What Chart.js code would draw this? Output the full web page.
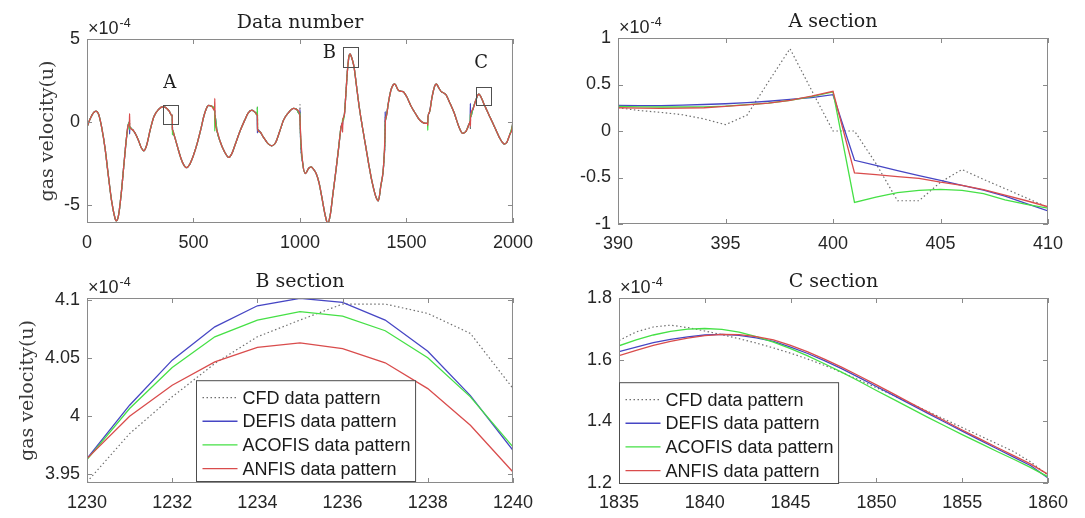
<!DOCTYPE html>
<html>
<head>
<meta charset="utf-8">
<script src="https://cdn.jsdelivr.net/npm/chart.js@4.4.1/dist/chart.umd.min.js"></script>
<style>
  body { margin: 0; background: #fff; width: 1085px; height: 518px; position: relative; overflow: hidden; }
  .cell { position: absolute; }
</style>
</head>
<body>
<div class="cell" style="left:0;top:0"><canvas id="cMain" width="542" height="260"></canvas></div>
<div class="cell" style="left:542px;top:0"><canvas id="cA" width="543" height="260"></canvas></div>
<div class="cell" style="left:0;top:260px"><canvas id="cB" width="542" height="258"></canvas></div>
<div class="cell" style="left:542px;top:260px"><canvas id="cC" width="543" height="258"></canvas></div>
<script>
// all velocities in units of 1e-4

// ---- full record (Data number) ----
const mainN = [0, 15, 30, 42, 55, 70, 85, 100, 115, 128, 137, 147, 160, 173, 185, 193, 199,
  201, 212, 225, 240, 255, 267, 280, 297, 314, 335, 356, 372, 386, 399, 400,
  402, 410, 425, 440, 455, 467, 480, 500, 517, 535, 548, 560, 571, 585, 599,
  601, 610, 626, 642, 655, 665, 680, 700, 720, 740, 757, 774, 788, 799,
  801, 813, 825, 837, 850, 868, 885, 905, 923, 945, 970, 985, 999,
  1001, 1013, 1026, 1040, 1052, 1064, 1076, 1090, 1105, 1118, 1130, 1142, 1155, 1169, 1181, 1193, 1199,
  1201, 1208, 1215, 1223, 1230, 1235, 1240, 1247, 1254, 1265, 1278, 1293, 1309, 1325, 1340, 1355, 1368, 1380, 1390, 1395, 1399,
  1401, 1405, 1417, 1429, 1445, 1461, 1475, 1484, 1500, 1523, 1545, 1562, 1580, 1593, 1599,
  1601, 1608, 1620, 1632, 1640, 1652, 1663, 1675, 1686, 1700, 1725, 1745, 1764, 1780, 1795, 1799,
  1801, 1811, 1825, 1835, 1840, 1848, 1855, 1866, 1890, 1913, 1935, 1950, 1960, 1972, 1985, 1998];
const mainV = [-0.30, 0.20, 0.55, 0.66, 0.45, -0.40, -1.60, -3.20, -4.70, -5.60, -5.95, -5.70, -4.40, -2.60, -1.00, -0.20, 0.00,
  -0.30, -0.45, -0.65, -1.05, -1.55, -1.73, -1.40, -0.45, 0.32, 0.75, 0.92, 0.85, 0.65, 0.38, 0.42,
  -0.48, -0.82, -1.50, -2.15, -2.60, -2.75, -2.60, -2.00, -1.30, -0.40, 0.32, 0.80, 1.00, 0.95, 0.70,
  0.40, -0.50, -1.20, -1.70, -2.00, -2.13, -1.90, -1.20, -0.50, 0.10, 0.55, 0.72, 0.60, 0.42,
  -0.45, -0.60, -0.85, -1.08, -1.30, -1.43, -1.25, -0.55, 0.12, 0.55, 0.82, 0.75, 0.45,
  -0.20, -2.50, -3.10, -2.80, -2.70, -2.85, -3.10, -3.70, -4.70, -5.60, -6.10, -5.60, -4.30, -2.90, -1.60, -0.30, -0.05,
  0.05, 0.40, 1.60, 3.13, 3.96, 4.10, 3.97, 3.70, 3.30, 2.20, 0.92, -0.30, -1.49, -2.70, -3.70, -4.45, -4.74, -3.80, -3.00, -2.10, -0.90,
  0.10, 0.32, 1.30, 2.00, 2.29, 1.93, 1.85, 1.83, 1.55, 0.92, 0.45, 0.12, -0.05, -0.08, -0.05,
  0.30, 0.60, 1.50, 2.15, 2.29, 2.05, 1.83, 1.75, 1.63, 1.25, 0.52, -0.25, -0.68, -0.55, -0.10, 0.05,
  0.30, 0.75, 1.30, 1.62, 1.68, 1.55, 1.35, 1.02, 0.35, -0.28, -0.90, -1.22, -1.33, -1.20, -0.75, -0.15];

// where the four models part ways (block boundaries)
const spikeN      = [200, 401, 600, 800, 1000, 1200, 1400, 1600, 1800, 2000];
const spikeCFD    = [0.10, 0.00, 0.60, 0.95, 1.05, 0.00, 0.30, 0.35, -0.45, 0.70];
const spikeDEFIS  = [-0.72, -0.31, 0.20, -0.65, 0.75, -0.20, 0.62, 0.10, 1.12, 0.20];
const spikeACOFIS = [-0.45, -0.77, -0.55, 0.90, 0.55, 0.20, 0.10, -0.50, 0.50, 0.05];
const spikeANFIS  = [0.50, -0.45, 1.43, 0.35, 0.20, -0.62, -0.50, -0.20, -0.25, 0.40];

// ---- A section ----
const aN      = [390, 391, 392, 393, 394, 395, 396, 397, 398, 399, 400, 401, 402, 403, 404, 405, 406, 407, 408, 409, 410];
const aCFD    = [0.25, 0.22, 0.20, 0.175, 0.13, 0.068, 0.17, 0.53, 0.885, 0.44, 0.00, 0.00, -0.35, -0.75, -0.75, -0.55, -0.415, -0.52, -0.62, -0.72, -0.82];
const aDEFIS  = [0.276, 0.272, 0.272, 0.278, 0.285, 0.293, 0.305, 0.32, 0.34, 0.36, 0.39, -0.315, -0.37, -0.425, -0.48, -0.53, -0.584, -0.635, -0.70, -0.78, -0.86];
const aACOFIS = [0.265, 0.26, 0.258, 0.258, 0.26, 0.268, 0.283, 0.30, 0.33, 0.37, 0.42, -0.767, -0.71, -0.663, -0.638, -0.627, -0.638, -0.674, -0.74, -0.79, -0.83];
const aANFIS  = [0.25, 0.245, 0.243, 0.245, 0.25, 0.265, 0.28, 0.30, 0.33, 0.375, 0.427, -0.45, -0.47, -0.49, -0.51, -0.55, -0.584, -0.63, -0.69, -0.75, -0.815];

// ---- B section ----
const bN      = [1230, 1231, 1232, 1233, 1234, 1235, 1236, 1237, 1238, 1239, 1240];
const bCFD    = [3.9434, 3.985, 4.0167, 4.0454, 4.0684, 4.0828, 4.0966, 4.0966, 4.0885, 4.0713, 4.0239];
const bDEFIS  = [3.9635, 4.0095, 4.0483, 4.077, 4.0951, 4.1015, 4.098, 4.0828, 4.056, 4.0178, 3.9707];
const bACOFIS = [3.9626, 4.0066, 4.042, 4.0684, 4.0828, 4.09, 4.0862, 4.0736, 4.0503, 4.0167, 3.9736];
const bANFIS  = [3.9635, 4.0, 4.0267, 4.0468, 4.0592, 4.0632, 4.0583, 4.046, 4.0238, 3.9922, 3.952];

// ---- C section ----
const cN      = [1835, 1836, 1837, 1838, 1839, 1840, 1841, 1842, 1843, 1844, 1845, 1846, 1847, 1848, 1849, 1850, 1851, 1852, 1853, 1854, 1855, 1856, 1857, 1858, 1859, 1860];
const cCFD    = [1.662, 1.690, 1.706, 1.712, 1.704, 1.693, 1.681, 1.668, 1.654, 1.638, 1.621, 1.602, 1.581, 1.558, 1.534, 1.509, 1.484, 1.458, 1.432, 1.406, 1.380, 1.354, 1.328, 1.302, 1.268, 1.225];
const cDEFIS  = [1.626, 1.641, 1.655, 1.666, 1.674, 1.680, 1.682, 1.679, 1.671, 1.659, 1.641, 1.620, 1.596, 1.570, 1.542, 1.513, 1.484, 1.455, 1.426, 1.397, 1.368, 1.340, 1.312, 1.284, 1.256, 1.216];
const cACOFIS = [1.645, 1.664, 1.680, 1.692, 1.699, 1.701, 1.698, 1.689, 1.675, 1.657, 1.636, 1.612, 1.586, 1.559, 1.530, 1.500, 1.471, 1.442, 1.413, 1.385, 1.357, 1.330, 1.303, 1.277, 1.250, 1.220];
const cANFIS  = [1.613, 1.630, 1.646, 1.659, 1.670, 1.678, 1.682, 1.681, 1.675, 1.664, 1.646, 1.625, 1.601, 1.575, 1.547, 1.518, 1.489, 1.459, 1.430, 1.401, 1.372, 1.344, 1.316, 1.289, 1.261, 1.228];

// ---- ticks ----
const xTicksMain = [0, 500, 1000, 1500, 2000];
const yTicksMain = [-5, 0, 5];
const xTicksA = [390, 395, 400, 405, 410];
const yTicksA = [-1, -0.5, 0, 0.5, 1];
const xTicksB = [1230, 1232, 1234, 1236, 1238, 1240];
const yTicksB = [3.95, 4, 4.05, 4.1];
const xTicksC = [1835, 1840, 1845, 1850, 1855, 1860];
const yTicksC = [1.2, 1.4, 1.6, 1.8];

const seriesNames = ['CFD data pattern', 'DEFIS data pattern', 'ACOFIS data pattern', 'ANFIS data pattern'];

// zoom boxes on the full record (data units)
const marks = [
  { label: 'A', x0: 356, x1: 426, y0: -0.12, y1: 1.02, lx: 389, ly: 2.35 },
  { label: 'B', x0: 1204, x1: 1274, y0: 3.31, y1: 4.52, lx: 1138, ly: 4.16 },
  { label: 'C', x0: 1827, x1: 1897, y0: 1.02, y1: 2.11, lx: 1850, ly: 3.55 }
];

const SANS = '"Liberation Sans", Arial, sans-serif';
const SERIF = '"DejaVu Serif", serif';
Chart.defaults.font.family = SANS;
Chart.defaults.font.size = 18;
Chart.defaults.color = '#262626';

const styles = [
  { borderColor: '#6f6f6f', borderDash: [1.5, 2.5], borderWidth: 1.2, order: 3 },
  { borderColor: '#4646c4', borderWidth: 1.3, order: 2 },
  { borderColor: '#45e045', borderWidth: 1.3, order: 1 },
  { borderColor: '#d94c4c', borderWidth: 1.3, order: 0 }
];

function pts(xs, ys) { return xs.map((x, i) => ({ x: x, y: ys[i] })); }

function withSpikes(spikes) {
  const p = pts(mainN, mainV).concat(pts(spikeN, spikes));
  p.sort((a, b) => a.x - b.x);
  return p;
}

function fmt(v) { return String(+(+v).toFixed(3)); }

function axesPlugin(cfg) {
  return {
    id: 'matlabAxes',
    afterDraw(chart) {
      const { ctx, chartArea: a, scales: { x, y } } = chart;
      ctx.save();
      ctx.strokeStyle = '#8a8a8a';
      ctx.lineWidth = 1;
      ctx.strokeRect(a.left + 0.5, a.top + 0.5, a.right - a.left - 1, a.bottom - a.top - 1);
      ctx.beginPath();
      x.ticks.forEach(t => {
        const px = Math.round(x.getPixelForValue(t.value)) + 0.5;
        ctx.moveTo(px, a.bottom); ctx.lineTo(px, a.bottom - 5);
        ctx.moveTo(px, a.top); ctx.lineTo(px, a.top + 5);
      });
      y.ticks.forEach(t => {
        const py = Math.round(y.getPixelForValue(t.value)) + 0.5;
        ctx.moveTo(a.left, py); ctx.lineTo(a.left + 5, py);
        ctx.moveTo(a.right, py); ctx.lineTo(a.right - 5, py);
      });
      ctx.stroke();

      // title
      ctx.fillStyle = '#1e1e1e';
      ctx.font = '19px ' + SERIF;
      ctx.textAlign = 'center';
      ctx.textBaseline = 'alphabetic';
      ctx.fillText(cfg.title, (a.left + a.right) / 2, a.top - 11);

      // exponent
      ctx.fillStyle = '#262626';
      ctx.textAlign = 'left';
      ctx.font = '18px ' + SANS;
      ctx.fillText('\u00d710', a.left + 1, a.top - 5);
      const w = ctx.measureText('\u00d710').width;
      ctx.font = '12.5px ' + SANS;
      ctx.fillText('-4', a.left + 2 + w, a.top - 12);

      // y label
      if (cfg.yLabel) {
        ctx.save();
        ctx.translate(cfg.yLabelX, (a.top + a.bottom) / 2);
        ctx.rotate(-Math.PI / 2);
        ctx.textAlign = 'center';
        ctx.textBaseline = 'middle';
        ctx.font = '19px ' + SERIF;
        ctx.fillStyle = '#3a3a3a';
        ctx.fillText(cfg.yLabel, 0, 0);
        ctx.restore();
      }

      // zoom boxes
      if (cfg.marks) {
        ctx.strokeStyle = '#505050';
        ctx.fillStyle = '#1e1e1e';
        ctx.font = '18px ' + SERIF;
        ctx.textAlign = 'center';
        ctx.textBaseline = 'middle';
        cfg.marks.forEach(m => {
          const l = Math.round(x.getPixelForValue(m.x0)) + 0.5, r = Math.round(x.getPixelForValue(m.x1)) + 0.5;
          const t = Math.round(y.getPixelForValue(m.y1)) + 0.5, b = Math.round(y.getPixelForValue(m.y0)) + 0.5;
          ctx.strokeRect(l, t, r - l, b - t);
          ctx.fillText(m.label, x.getPixelForValue(m.lx), y.getPixelForValue(m.ly));
        });
      }

      // legend inside axes
      if (cfg.legend) {
        const L = cfg.legend;
        ctx.font = '18px ' + SANS;
        const tw = Math.max(...chart.data.datasets.map(d => ctx.measureText(d.label).width));
        const rowH = 23.7;
        const bw = 46 + tw + 5, bh = rowH * 4 + 6;
        const bx = a.left + L.dx + 0.5, by = a.bottom - L.dy - bh + 0.5;
        ctx.fillStyle = '#fff';
        ctx.fillRect(bx, by, bw, bh);
        ctx.strokeStyle = '#4d4d4d';
        ctx.setLineDash([]);
        ctx.strokeRect(bx, by, bw, bh);
        ctx.textAlign = 'left';
        ctx.textBaseline = 'middle';
        chart.data.datasets.forEach((d, i) => {
          const cy = by + 5 + rowH * (i + 0.5);
          ctx.beginPath();
          ctx.strokeStyle = d.borderColor;
          ctx.lineWidth = d.borderWidth;
          ctx.setLineDash(d.borderDash || []);
          ctx.moveTo(bx + 6, cy); ctx.lineTo(bx + 41, cy);
          ctx.stroke();
          ctx.setLineDash([]);
          ctx.fillStyle = '#1a1a1a';
          ctx.fillText(d.label, bx + 46, cy + 1);
        });
      }
      ctx.restore();
    }
  };
}

function makeChart(id, cfg) {
  const datasets = cfg.series.map((s, i) => Object.assign({
    label: seriesNames[i],
    data: s,
    pointRadius: 0,
    fill: false,
    tension: 0,
    cubicInterpolationMode: cfg.smooth ? 'monotone' : 'default'
  }, styles[i]));
  return new Chart(document.getElementById(id), {
    type: 'line',
    data: { datasets: datasets },
    plugins: [axesPlugin(cfg)],
    options: {
      responsive: false,
      animation: false,
      devicePixelRatio: 1,
      layout: { padding: { left: 0, top: cfg.top, right: cfg.right, bottom: 0 } },
      plugins: { legend: { display: false }, tooltip: { enabled: false } },
      scales: {
        x: {
          type: 'linear', min: cfg.xMin, max: cfg.xMax,
          grid: { display: false, drawTicks: false }, border: { display: false },
          afterBuildTicks: s => { s.ticks = cfg.xTicks.map(v => ({ value: v })); },
          afterFit: s => { s.height = cfg.xh; },
          ticks: { padding: 9, maxRotation: 0, autoSkip: false, callback: v => fmt(v) }
        },
        y: {
          type: 'linear', min: cfg.yMin, max: cfg.yMax,
          grid: { display: false, drawTicks: false }, border: { display: false },
          afterBuildTicks: s => { s.ticks = cfg.yTicks.map(v => ({ value: v })); },
          afterFit: s => { s.width = cfg.yw; },
          ticks: { padding: 7, autoSkip: false, callback: v => fmt(v) }
        }
      }
    }
  });
}

makeChart('cMain', {
  series: [withSpikes(spikeCFD), withSpikes(spikeDEFIS), withSpikes(spikeACOFIS), withSpikes(spikeANFIS)],
  smooth: true,
  xMin: 0, xMax: 2000, yMin: -6.08, yMax: 5,
  xTicks: xTicksMain, yTicks: yTicksMain,
  top: 39, right: 27, yw: 87, xh: 37,
  title: 'Data number', yLabel: 'gas velocity(u)', yLabelX: 48, marks: marks
});

makeChart('cA', {
  series: [pts(aN, aCFD), pts(aN, aDEFIS), pts(aN, aACOFIS), pts(aN, aANFIS)],
  xMin: 390, xMax: 410, yMin: -1, yMax: 1,
  xTicks: xTicksA, yTicks: yTicksA,
  top: 38, right: 37, yw: 76, xh: 36,
  title: 'A section'
});

makeChart('cB', {
  series: [pts(bN, bCFD), pts(bN, bDEFIS), pts(bN, bACOFIS), pts(bN, bANFIS)],
  xMin: 1230, xMax: 1240, yMin: 3.9425, yMax: 4.1018,
  xTicks: xTicksB, yTicks: yTicksB,
  top: 38, right: 27, yw: 87, xh: 35,
  title: 'B section', yLabel: 'gas velocity(u)', yLabelX: 28,
  legend: { dx: 109, dy: 2 }
});

makeChart('cC', {
  series: [pts(cN, cCFD), pts(cN, cDEFIS), pts(cN, cACOFIS), pts(cN, cANFIS)],
  xMin: 1835, xMax: 1860, yMin: 1.2, yMax: 1.8,
  xTicks: xTicksC, yTicks: yTicksC,
  top: 38, right: 37, yw: 77, xh: 35,
  title: 'C section',
  legend: { dx: 0, dy: 0 }
});
</script>
</body>
</html>
